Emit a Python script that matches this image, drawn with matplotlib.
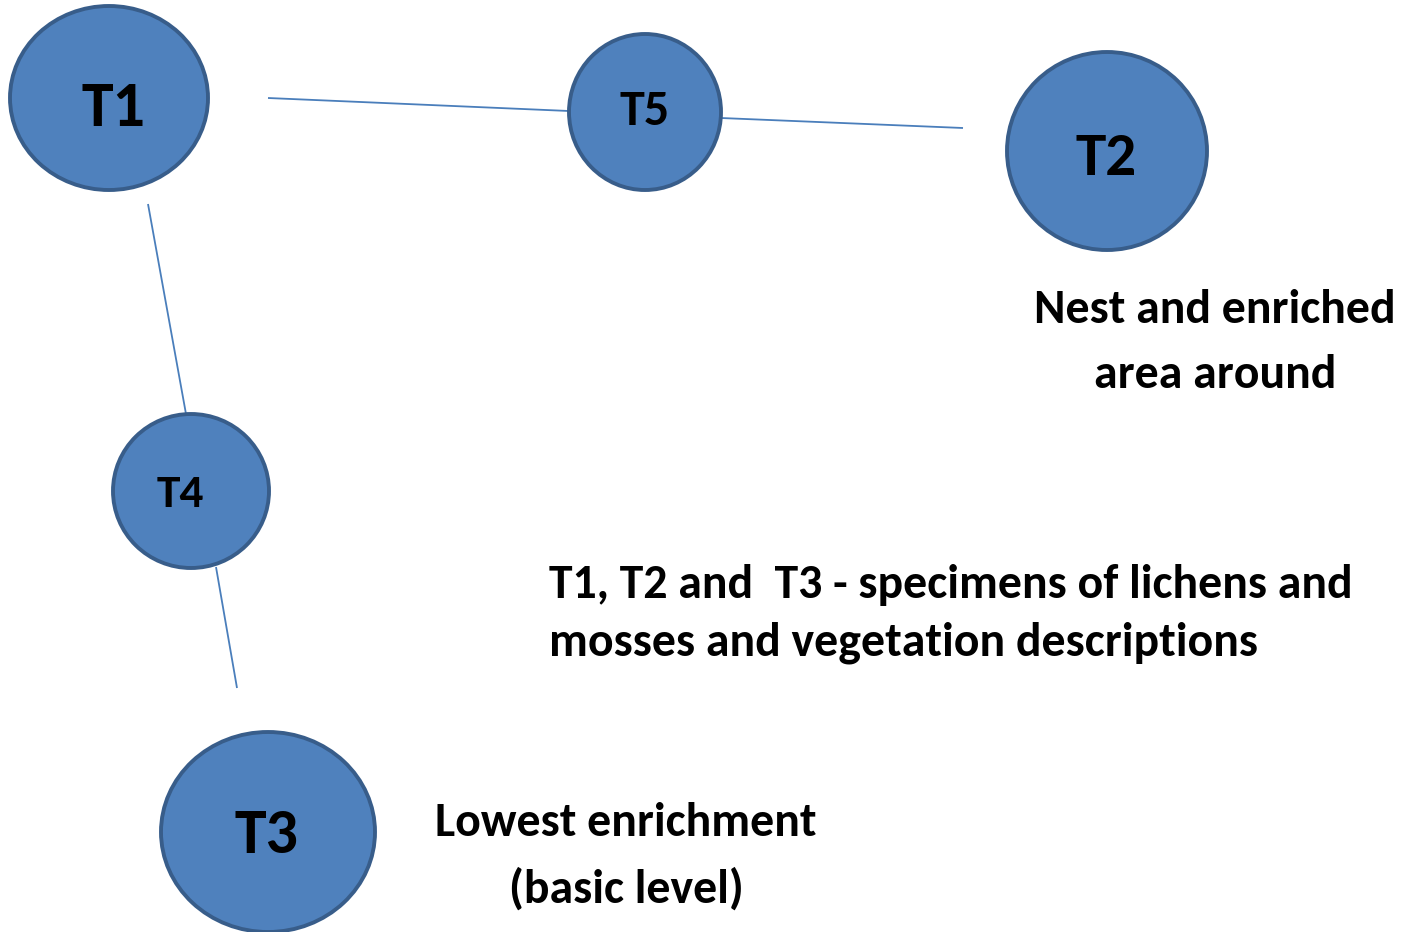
import matplotlib
matplotlib.use("Agg")
import matplotlib.pyplot as plt
from matplotlib.patches import Ellipse

# Diagram data (pixel-space layout of the reference)
node_labels = ["T1", "T5", "T2", "T4", "T3"]
node_x = [109, 645, 1107, 191, 268]
node_y = [98, 112, 151, 491, 832]
node_rx = [99, 76, 100, 78, 107]
node_ry = [92, 78, 99, 77, 100]
label_x = [113, 645, 1106, 180, 266]
label_baseline = [126, 125, 175, 507, 853]
label_fontsize = [46, 36, 44, 34, 46]

# connector segments: (x0, y0, x1, y1)
links = [
    (268, 98, 569, 111),
    (721, 118, 963, 128),
    (148, 204, 186, 414),
    (216, 567, 237, 688),
]

# annotation lines: text, x, baseline y, alignment
note_lines = [
    ("Nest and enriched", 1215, 323, "center"),
    ("area around", 1215, 388, "center"),
    ("T1, T2 and  T3 - specimens of lichens and", 549, 598, "left"),
    ("mosses and vegetation descriptions", 549, 655, "left"),
    ("Lowest enrichment", 626, 836, "center"),
    ("(basic level)", 626, 903, "center"),
]
note_fontsize = 34.4

FONT = ["Carlito", "Lato", "DejaVu Sans"]
FILL = "#4F81BD"
EDGE = "#385D8A"
LINE = "#4A7EBB"

fig = plt.figure(figsize=(14.05, 9.32), dpi=100)
ax = fig.add_axes([0, 0, 1, 1])
ax.set_xlim(0, 1405)
ax.set_ylim(932, 0)
ax.axis("off")

for (x0, y0, x1, y1) in links:
    ax.plot([x0, x1], [y0, y1], color=LINE, lw=1.3, solid_capstyle="butt")

for x, y, rx, ry in zip(node_x, node_y, node_rx, node_ry):
    ax.add_patch(Ellipse((x, y), 2 * rx, 2 * ry, facecolor=FILL, edgecolor=EDGE, lw=2.8, zorder=3))

for lab, x, yb, fs in zip(node_labels, label_x, label_baseline, label_fontsize):
    ax.text(x, yb, lab, ha="center", va="baseline", fontsize=fs, fontweight="bold",
            family=FONT, color="black", zorder=4)

for txt, x, yb, ha in note_lines:
    ax.text(x, yb, txt, ha=ha, va="baseline", fontsize=note_fontsize, fontweight="bold",
            family=FONT, color="black")

fig.savefig("out.png", dpi=100)
